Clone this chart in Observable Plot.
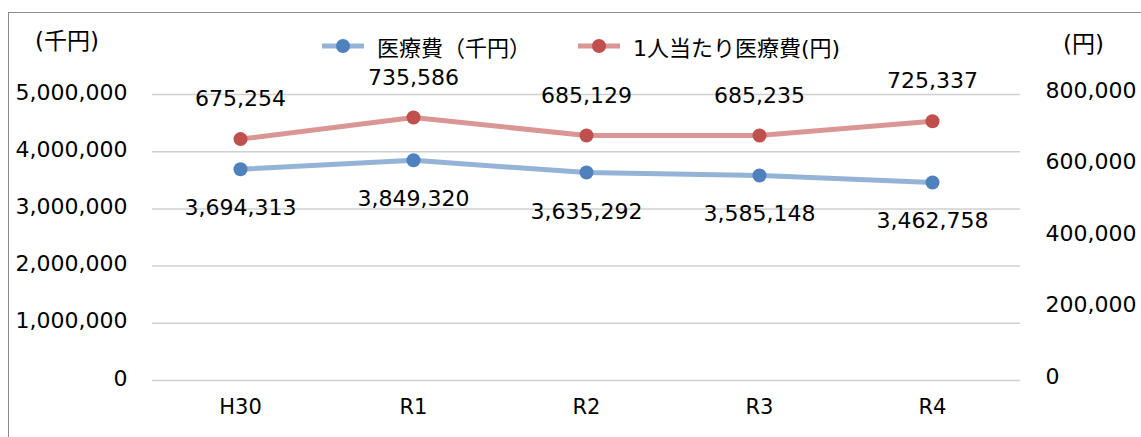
<!DOCTYPE html>
<html><head><meta charset="utf-8">
<script src="https://cdn.jsdelivr.net/npm/d3@7"></script>
<script src="https://cdn.jsdelivr.net/npm/@observablehq/plot@0.6"></script>
<style>
html,body{margin:0;padding:0;background:#fff;}
#wrap{position:relative;width:1141px;height:437px;overflow:hidden;font-family:"DejaVu Sans","Noto Sans CJK JP",sans-serif;color:#000;}
#frame{position:absolute;left:8px;top:12px;width:1200px;height:500px;border:1.5px solid #8c8c8c;box-sizing:border-box;}
#chart{position:absolute;left:0;top:0;}
.lbl{position:absolute;font-size:23px;line-height:1;white-space:nowrap;}
.leg{position:absolute;top:30px;display:flex;align-items:center;font-size:22px;white-space:nowrap;}
.leg svg{margin-right:12px;}
</style></head>
<body>
<div id="wrap">
  <div id="frame"></div>
  <div id="chart"></div>
  <div class="lbl" style="left:35px;top:30px;">(千円)</div>
  <div class="lbl" style="left:1063px;top:33px;">(円)</div>
  <div class="leg" style="left:321px;"><svg width="44" height="20"><line x1="1" y1="10" x2="43" y2="10" stroke="#95B3D7" stroke-width="5"/><circle cx="22" cy="10" r="7" fill="#4F81BD"/></svg>医療費（千円）</div>
  <div class="leg" style="left:577px;"><svg width="44" height="20"><line x1="1" y1="10" x2="43" y2="10" stroke="#D99694" stroke-width="5"/><circle cx="22" cy="10" r="7" fill="#C0504D"/></svg>1人当たり医療費(円)</div>
</div>
<script>
const years = ["H30", "R1", "R2", "R3", "R4"];
const costThousand = [3694313, 3849320, 3635292, 3585148, 3462758];
const perCapita = [675254, 735586, 685129, 685235, 725337];
const leftTicks = [0, 1000000, 2000000, 3000000, 4000000, 5000000];
const rightTicks = [0, 200000, 400000, 600000, 800000];

const leftMax = 5000000, rightMax = 800000;
const ratio = leftMax / rightMax;
const fmt = d => Math.round(d).toLocaleString("en-US");

const blue = years.map((y, i) => ({year: y, v: costThousand[i]}));
const red = years.map((y, i) => ({year: y, v: perCapita[i] * ratio, raw: perCapita[i]}));

const plot = Plot.plot({
  width: 1141,
  height: 437,
  marginLeft: 152,
  marginRight: 121,
  marginTop: 94,
  marginBottom: 57,
  style: {fontFamily: '"DejaVu Sans","Noto Sans CJK JP",sans-serif', fontSize: "22px", background: "transparent", color: "#000"},
  x: {type: "point", domain: years, padding: 0.5, label: null},
  y: {domain: [0, leftMax], label: null},
  marks: [
    Plot.gridY(leftTicks, {stroke: "#d0d0d0", strokeOpacity: 1, strokeWidth: 1.5}),
    Plot.axisY(leftTicks, {anchor: "left", tickSize: 0, tickPadding: 25, tickFormat: fmt, label: null, fontSize: 22, dy: -2}),
    Plot.axisY(rightTicks.map(v => v * ratio), {anchor: "right", tickSize: 0, tickPadding: 25, tickFormat: d => fmt(d / ratio), label: null, fontSize: 22, dy: -4}),
    Plot.axisX({tickSize: 0, tickPadding: 19, label: null, fontSize: 21}),
    Plot.line(blue, {x: "year", y: "v", stroke: "#95B3D7", strokeWidth: 5}),
    Plot.line(red, {x: "year", y: "v", stroke: "#D99694", strokeWidth: 5}),
    Plot.dot(blue, {x: "year", y: "v", r: 7, fill: "#4F81BD"}),
    Plot.dot(red, {x: "year", y: "v", r: 7, fill: "#C0504D"}),
    Plot.text(blue, {x: "year", y: "v", text: d => fmt(d.v), dy: 39, fontSize: 22}),
    Plot.text(red, {x: "year", y: "v", text: d => fmt(d.raw), dy: -40, fontSize: 22})
  ]
});
document.getElementById("chart").appendChild(plot);
</script>
</body></html>
